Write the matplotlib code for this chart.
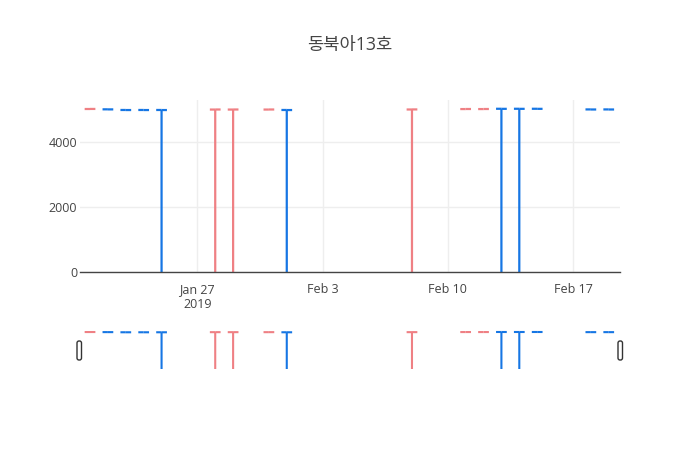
import datetime as dt
import matplotlib
matplotlib.use('Agg')
import matplotlib.pyplot as plt
import matplotlib.dates as mdates
from matplotlib.patches import FancyBboxPatch
from matplotlib.transforms import IdentityTransform

plt.rcParams['font.family'] = ['Open Sans', 'Noto Sans CJK KR', 'DejaVu Sans']

title = '동북아13호'

days = ['2019-01-21', '2019-01-22', '2019-01-23', '2019-01-24', '2019-01-25',
        '2019-01-28', '2019-01-29', '2019-01-31', '2019-02-01', '2019-02-08',
        '2019-02-11', '2019-02-12', '2019-02-13', '2019-02-14', '2019-02-15',
        '2019-02-18', '2019-02-19']
open_ = [5015, 5005, 4985, 4985, 4985, 4998, 4998, 4998, 4985, 5000,
         5013, 5013, 5022, 5022, 5022, 5002, 5002]
high = [5017, 5005, 4985, 4985, 4985, 5000, 5000, 5000, 4985, 5002,
        5015, 5015, 5022, 5022, 5022, 5002, 5002]
low = [5015, 5003, 4983, 4983, 0, 0, 0, 4998, 0, 0,
       5013, 5013, 0, 0, 5020, 5000, 5000]
close = [5017, 5003, 4983, 4983, 4983, 5000, 5000, 5000, 4983, 5002,
         5015, 5015, 5020, 5020, 5020, 5000, 5000]

tick_days = ['2019-01-27', '2019-02-03', '2019-02-10', '2019-02-17']
tick_labels = ['Jan 27\n2019', 'Feb 3', 'Feb 10', 'Feb 17']

up_color = '#EF8084'
down_color = '#1676E4'
text_color = '#444444'

x = mdates.date2num([dt.datetime.strptime(d, '%Y-%m-%d') for d in days])
xt = mdates.date2num([dt.datetime.strptime(d, '%Y-%m-%d') for d in tick_days])
colors = [up_color if c >= o else down_color for o, c in zip(open_, close)]

fig = plt.figure(figsize=(7, 4.5), dpi=100)
ax = fig.add_axes([80 / 700, 178 / 450, 540 / 700, 172 / 450])
sl = fig.add_axes([80 / 700, 81 / 450, 540 / 700, 39 / 450])

xmin, xmax = x[0] - 0.56, x[-1] + 0.63
ymax = 5292
w = 0.3


def draw_ohlc(a, lw):
    for xi, o, h, l, c, col in zip(x, open_, high, low, close, colors):
        a.vlines(xi, l, h, color=col, lw=lw, zorder=3, snap=False)
        a.hlines(o, xi - w, xi, color=col, lw=lw, zorder=3, snap=False)
        a.hlines(c, xi, xi + w, color=col, lw=lw, zorder=3, snap=False)


draw_ohlc(ax, 1.6)
ax.set_xlim(xmin, xmax)
ax.set_ylim(0, ymax)
for s in ax.spines.values():
    s.set_visible(False)
ax.axhline(0, color=text_color, lw=1, zorder=4, clip_on=False)
ax.set_yticks([0, 2000, 4000])
ax.set_yticklabels(['0', '2000', '4000'])
ax.set_xticks(xt)
ax.set_xticklabels(tick_labels)
ax.tick_params(length=0, labelsize=9, labelcolor=text_color)
ax.tick_params(axis='x', pad=8)
ax.tick_params(axis='y', pad=2)
ax.grid(True, color='#eeeeee', lw=1, zorder=0)
ax.set_axisbelow(True)

draw_ohlc(sl, 1.5)
sl.set_xlim(xmin, xmax)
sl.set_ylim(0, ymax)
sl.axis('off')

for px in (77, 618):
    fig.patches.append(FancyBboxPatch((px, 90), 4.5, 19,
                                      boxstyle='round,pad=0,rounding_size=2',
                                      transform=IdentityTransform(),
                                      facecolor='white', edgecolor='#333333',
                                      lw=1, figure=fig))

fig.text(0.5, 405 / 450, title, ha='center', va='center', fontsize=12.75,
         color=text_color)

fig.savefig('out.png', dpi=100)
